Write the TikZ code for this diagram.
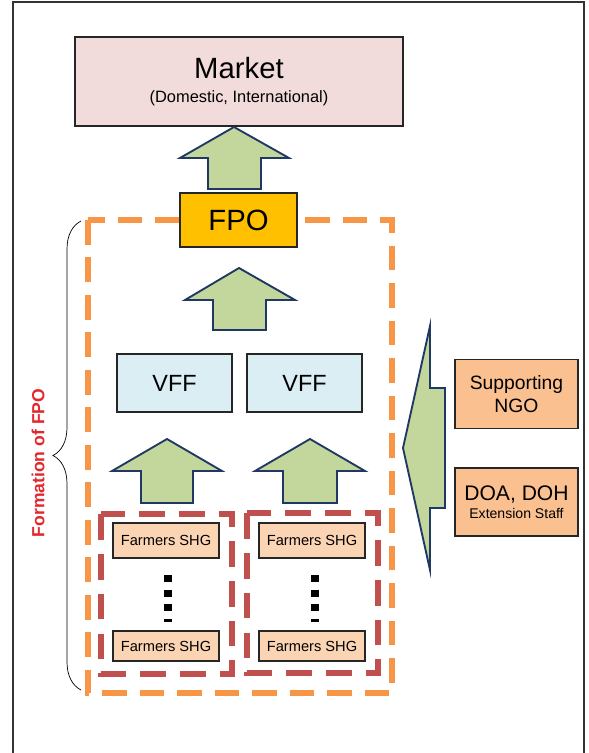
\documentclass[tikz,border=0pt]{standalone}
\usepackage{fontspec}
\setmainfont{Liberation Sans}
\usetikzlibrary{decorations.pathreplacing}

\definecolor{marketpink}{HTML}{F2DCDB}
\definecolor{fpoyellow}{HTML}{FFC000}
\definecolor{vffblue}{HTML}{DAEEF3}
\definecolor{shgpeach}{HTML}{FBD4B4}
\definecolor{ngoorange}{HTML}{FAC090}
\definecolor{arrowgreen}{HTML}{C3D69B}
\definecolor{arrownavy}{HTML}{1F3864}
\definecolor{dashorange}{HTML}{F79646}
\definecolor{dashred}{HTML}{C0504D}
\definecolor{labelred}{HTML}{E0282E}

\begin{document}
\begin{tikzpicture}[x=0.03cm, y=-0.03cm, every node/.style={font=\small}]
\tikzstyle{box} = [rectangle, draw=black!85, line width=0.9pt, inner sep=0pt, outer sep=0pt,
align=center, text=black]
\tikzstyle{marketbox} = [box, fill=marketpink, minimum width=9.84cm, minimum height=2.67cm]
\tikzstyle{fpobox} = [box, fill=fpoyellow, minimum width=3.51cm, minimum height=1.62cm,
font=\fontsize{25}{30}\selectfont]
\tikzstyle{vffbox} = [box, fill=vffblue, minimum width=3.45cm, minimum height=1.74cm,
font=\fontsize{20}{24}\selectfont]
\tikzstyle{shgbox} = [box, fill=shgpeach, minimum width=3.18cm, minimum height=1.0cm,
font=\fontsize{12.5}{15}\selectfont]
\tikzstyle{ngobox} = [box, fill=ngoorange, minimum width=3.69cm, minimum height=2.07cm]
\tikzstyle{blockarrow} = [draw=arrownavy, fill=arrowgreen, line width=1.6pt, line join=miter]
\tikzstyle{fpoline} = [dashorange, line width=5pt, dash pattern=on 21pt off 11pt]
\tikzstyle{vffline} = [dashred, line width=5pt, dash pattern=on 22pt off 12pt]
\tikzstyle{dots} = [black, line width=6pt, dash pattern=on 6pt off 6.4pt]

\useasboundingbox (0,0) rectangle (589,753);

% Frame
\draw [black!80, line width=1.3pt] (13,753) -- (13,2) -- (584,2) -- (584,753);

% Groups
\draw [fpoline] (88,220) rectangle (392,693);
\draw [vffline] (101,514) rectangle (232,674);
\draw [vffline] (247,513) rectangle (378,673);

% Nodes
\node (market) [marketbox] at (239,81.5)
  {{\fontsize{25}{30}\selectfont Market}\\[9pt]{\fontsize{14}{17}\selectfont (Domestic, International)}};
\node (fpo) [fpobox] at (238.5,220) {FPO};
\node (vffa) [vffbox] at (174.5,383) {VFF};
\node (vffb) [vffbox] at (304.5,383) {VFF};
\node (shga) [shgbox, minimum height=1.05cm] at (166,540.5) {Farmers SHG};
\node (shgb) [shgbox, minimum height=0.9cm] at (166,646) {Farmers SHG};
\node (shgc) [shgbox, minimum height=1.05cm] at (312,540.5) {Farmers SHG};
\node (shgd) [shgbox, minimum height=0.9cm] at (312,646) {Farmers SHG};
\node (ngo) [ngobox, font=\fontsize{16.5}{17}\selectfont] at (516.5,394) {Supporting\\[2.5pt]NGO};
\node (doa) [ngobox, minimum height=2.04cm] at (516.5,502)
  {{\fontsize{18}{20}\selectfont DOA, DOH}\\[4pt]{\fontsize{12}{14}\selectfont Extension Staff}};
\node (formation) [rotate=90, text=labelred, font=\fontsize{15}{18}\selectfont\bfseries]
  at (38,463) {Formation of FPO};

% Dots
\draw [dots] (shga.south) ++(2,17) -- ++(0,47);
\draw [dots] (shgc.south) ++(3,17) -- ++(0,47);

% Arrows
\draw [blockarrow] (234,127) -- (289,158) -- (261,158) -- (261,189) -- (208,189) -- (208,158)
  -- (180,158) -- cycle;
\draw [blockarrow] (239,268) -- (295,300) -- (266,300) -- (266,330) -- (213,330) -- (213,300)
  -- (185,300) -- cycle;
\draw [blockarrow] (167,439) -- (222,471) -- (193,471) -- (193,503) -- (141,503) -- (141,471)
  -- (112,471) -- cycle;
\draw [blockarrow] (310,439) -- (365,471) -- (337,471) -- (337,503) -- (283,503) -- (283,471)
  -- (255,471) -- cycle;
\draw [blockarrow] (403,448) -- (430,326) -- (430,388) -- (445,388) -- (445,508) -- (430,508)
  -- (430,570) -- cycle;

% Brace
\coordinate (bracelow) at (81,690);
\coordinate (bracehigh) at (81,221);
\draw [black, line width=0.6pt, decorate, decoration={brace, amplitude=0.84cm}]
  (bracelow) -- (bracehigh);
\end{tikzpicture}
\end{document}
